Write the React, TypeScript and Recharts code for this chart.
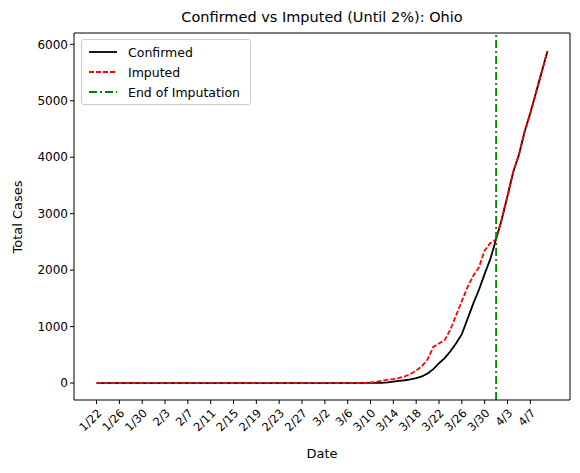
import { LineChart, Line, XAxis, YAxis, ReferenceLine } from "recharts";

// 1/22 .. 4/10 (2020)
const startDate = new Date(2020, 0, 22);
const dates = Array.from({ length: 80 }, (_, i) => {
  const d = new Date(startDate.getTime() + i * 86400000);
  return `${d.getMonth() + 1}/${d.getDate()}`;
});

const zeros47 = new Array(47).fill(0);

// 3/9 .. 4/10
const confirmedTail = [
  3, 3, 4, 5, 13, 26, 37, 50, 67, 88, 119, 169, 247, 351, 442, 564, 704, 867,
  1137, 1406, 1653, 1933, 2199, 2547, 2902, 3312, 3739, 4043, 4450, 4782, 5148, 5512, 5878,
];
const imputedTail = [
  5, 10, 20, 40, 60, 70, 90, 120, 160, 220, 300, 420, 640, 700, 760, 950, 1200, 1450,
  1700, 1900, 2050, 2350, 2480, 2547, 2902, 3312, 3739, 4043, 4450, 4782, 5148, 5512, 5878,
];
const confirmed = [...zeros47, ...confirmedTail];
const imputed = [...zeros47, ...imputedTail];

const endOfImputation = 70; // 4/1
const xTicks = Array.from({ length: 20 }, (_, i) => i * 4);
const yTicks = [0, 1000, 2000, 3000, 4000, 5000, 6000];

const data = dates.map((d, i) => ({ day: i, date: d, confirmed: confirmed[i], imputed: imputed[i] }));

const font = "DejaVu Sans, sans-serif";

function LegendBox() {
  const items = [
    { label: "Confirmed", color: "#000", dash: "" },
    { label: "Imputed", color: "#ff0000", dash: "5 2" },
    { label: "End of Imputation", color: "#008000", dash: "8 3 2 3" },
  ];
  return (
    <div style={{ border: "1px solid #ccc", borderRadius: 3, background: "#fff", padding: "2px 6px", width: 156 }}>
      {items.map((it) => (
        <div key={it.label} style={{ display: "flex", alignItems: "center", height: 20, fontSize: 12.5, fontFamily: font }}>
          <svg width={30} height={10} style={{ marginRight: 10 }}>
            <line x1={1} y1={5} x2={29} y2={5} stroke={it.color} strokeWidth={1.8} strokeDasharray={it.dash} />
          </svg>
          {it.label}
        </div>
      ))}
    </div>
  );
}

export default function App() {
  return (
    <div style={{ position: "absolute", left: 0, top: 0, width: 580, height: 473, background: "#fff", fontFamily: font }}>
      <div style={{ position: "absolute", top: 9, left: 74, width: 496, textAlign: "center", fontSize: 14.5 }}>
        Confirmed vs Imputed (Until 2%): Ohio
      </div>
      <div style={{ position: "absolute", top: 446, left: 74, width: 496, textAlign: "center", fontSize: 13 }}>Date</div>
      <div style={{ position: "absolute", left: 17, top: 217, transform: "translate(-50%,-50%) rotate(-90deg)", fontSize: 13, whiteSpace: "nowrap" }}>
        Total Cases
      </div>
      <LineChart width={580} height={473} data={data} margin={{ top: 33, right: 10, bottom: 0, left: 0 }}>
        <XAxis
          type="number"
          dataKey="day"
          domain={[-3.95, 82.95]}
          ticks={xTicks}
          interval={0}
          tickFormatter={(v) => dates[v]}
          angle={-45}
          textAnchor="end"
          tick={{ fontSize: 11.5, fill: "#000", dy: 2 }}
          stroke="#000"
          tickSize={4}
          height={73}
          allowDataOverflow
        />
        <YAxis
          domain={[-300, 6200]}
          ticks={yTicks}
          tick={{ fontSize: 12, fill: "#000" }}
          stroke="#000"
          tickSize={4}
          width={74}
          allowDataOverflow
        />
        <Line dataKey="confirmed" stroke="#000" strokeWidth={1.8} dot={false} isAnimationActive={false} />
        <Line dataKey="imputed" stroke="#ff0000" strokeWidth={1.8} strokeDasharray="5 2" dot={false} isAnimationActive={false} />
        <ReferenceLine x={endOfImputation} stroke="#008000" strokeWidth={1.8} strokeDasharray="8 3 2 3" />
        <ReferenceLine y={6200} stroke="#000" />
        <ReferenceLine x={82.95} stroke="#000" />
      </LineChart>
      <div style={{ position: "absolute", left: 81, top: 39 }}>
        <LegendBox />
      </div>
    </div>
  );
}
